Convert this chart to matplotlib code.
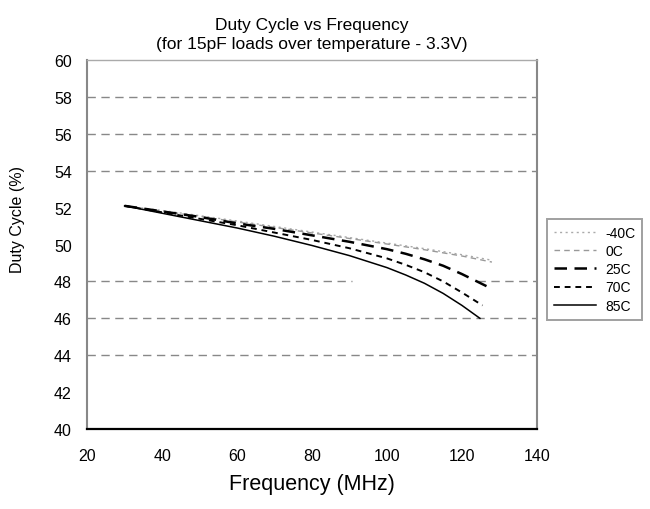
import matplotlib
matplotlib.use('Agg')
from matplotlib import pyplot as plt

plt.rcParams['font.family'] = ['Liberation Sans', 'DejaVu Sans']

# 数据
freq = [30, 40, 50, 60, 70, 80, 90, 100, 110, 120, 128]
duty_m40 = [52.1, 51.85, 51.57, 51.28, 50.98, 50.68, 50.38, 50.08, 49.78, 49.45, 49.15]
duty_0 = [52.1, 51.82, 51.53, 51.23, 50.93, 50.63, 50.33, 50.03, 49.72, 49.38, 49.05]

freq_25 = [30, 40, 50, 60, 70, 80, 90, 100, 105, 110, 115, 120, 125, 128]
duty_25 = [52.1, 51.8, 51.5, 51.15, 50.85, 50.5, 50.15, 49.75, 49.5, 49.2,
           48.85, 48.4, 47.9, 47.6]

freq_70 = [30, 40, 50, 60, 70, 80, 90, 100, 105, 110, 115, 120, 125.5]
duty_70 = [52.1, 51.75, 51.4, 51.05, 50.65, 50.25, 49.8, 49.25, 48.9, 48.5,
           48.0, 47.4, 46.7]

freq_85 = [30, 40, 50, 60, 70, 80, 90, 100, 105, 110, 115, 120, 124.8]
duty_85 = [52.1, 51.7, 51.3, 50.9, 50.45, 49.95, 49.4, 48.75, 48.35, 47.9,
           47.35, 46.7, 46.0]

x_ticks = [20, 40, 60, 80, 100, 120, 140]
y_ticks = [40, 42, 44, 46, 48, 50, 52, 54, 56, 58, 60]
grid_full = [44, 46, 54, 56, 58]

fig = plt.figure(figsize=(6.5, 5.1), dpi=100)
ax = fig.add_axes([0.134, 0.157, 0.692, 0.723])

# 网格线（虚线）
for g in grid_full:
    ax.axhline(g, color='#888888', lw=1, dashes=(6, 4), zorder=1)
ax.axhline(48, xmax=0.59, color='#888888', lw=1, dashes=(6, 4), zorder=1)
ax.axhline(48, xmin=0.867, color='#888888', lw=1, dashes=(6, 4), zorder=1)

# 曲线
ax.plot(freq, duty_m40, color='#aaaaaa', lw=1, dashes=(1.5, 2.5), label='-40C')
ax.plot(freq, duty_0, color='#999999', lw=1, dashes=(4, 3), label='0C')
ax.plot(freq_25, duty_25, color='black', lw=1.8, dashes=(5, 3), label='25C')
ax.plot(freq_70, duty_70, color='black', lw=1.4, dashes=(3, 2.5), label='70C')
ax.plot(freq_85, duty_85, color='black', lw=1.1, label='85C')

ax.set_xlim(20, 140)
ax.set_ylim(40, 60)
ax.set_xticks(x_ticks)
ax.set_yticks(y_ticks)
ax.tick_params(axis='both', length=0, labelsize=11.5)
ax.tick_params(axis='x', pad=14)
ax.tick_params(axis='y', pad=11)

for side in ['left', 'right']:
    ax.spines[side].set_color('#888888')
    ax.spines[side].set_linewidth(1.5)
ax.spines['top'].set_color('#aaaaaa')
ax.spines['top'].set_linewidth(1)
ax.spines['bottom'].set_color('black')
ax.spines['bottom'].set_linewidth(1.6)

ax.set_title('Duty Cycle vs Frequency\n(for 15pF loads over temperature - 3.3V)',
             fontsize=12.5, pad=9, linespacing=1.3)
ax.set_xlabel('Frequency (MHz)', fontsize=15.5)
ax.xaxis.set_label_coords(0.5, -0.12)
ax.set_ylabel('Duty Cycle (%)', fontsize=11.5)
ax.yaxis.set_label_coords(-0.138, 0.57)

leg = ax.legend(loc='upper left', bbox_to_anchor=(547 / 650, 1 - 220 / 510),
                bbox_transform=fig.transFigure, fontsize=10, frameon=True,
                fancybox=False, edgecolor='#888888', handlelength=3.0,
                handletextpad=0.7, borderpad=0.5, labelspacing=0.3,
                borderaxespad=0)
leg.get_frame().set_linewidth(1.4)

plt.savefig('out.png', dpi=100)
